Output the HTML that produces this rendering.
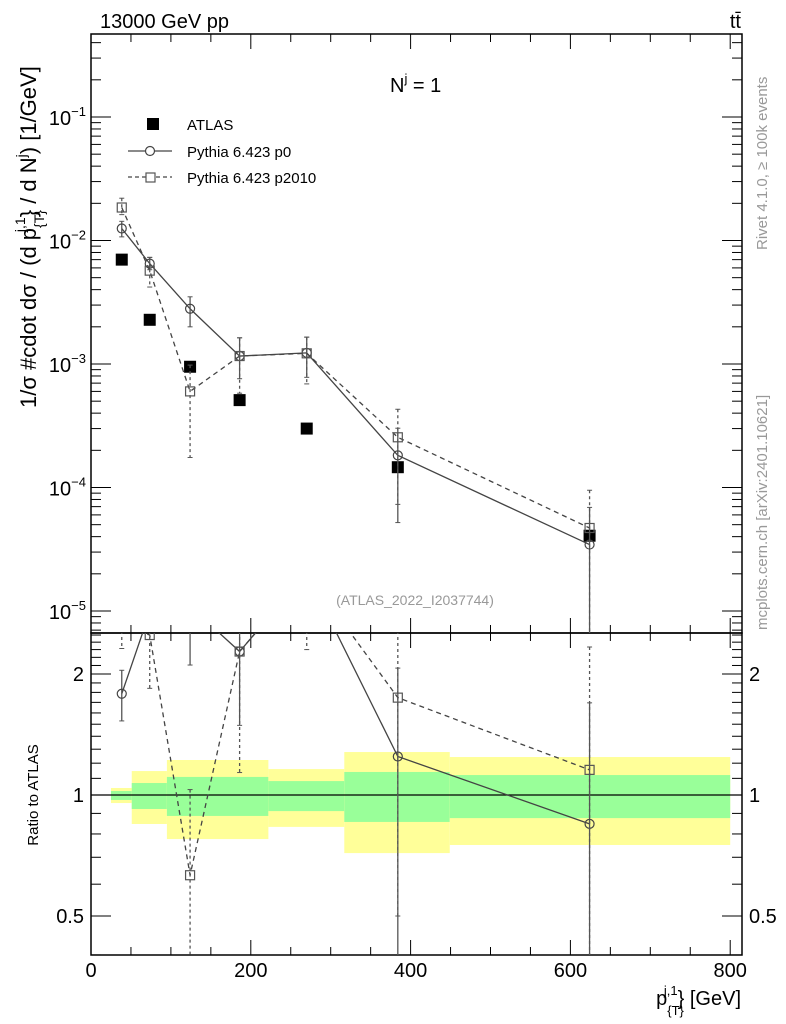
<!DOCTYPE html>
<html><head><meta charset="utf-8"><style>
html,body{margin:0;padding:0;background:#fff;overflow:hidden;width:786px;height:1024px;}
svg{display:block;font-family:"Liberation Sans",sans-serif;}
</style></head><body>
<svg id="chart" width="786" height="1024" xmlns="http://www.w3.org/2000/svg">
<g id="bands"></g>
<g id="axes"></g>
<g id="series"></g>
<text x="100" y="28" font-size="20">13000 GeV pp</text>
<text x="741" y="28" font-size="20" text-anchor="end">tt̄</text>
<text x="390" y="92" font-size="20">N<tspan dy="-9" font-size="13">j</tspan><tspan dy="9"> = 1</tspan></text>
<text x="415" y="605" font-size="14" fill="#999" text-anchor="middle">(ATLAS_2022_I2037744)</text>
<text transform="translate(767,250) rotate(-90)" font-size="15" fill="#999">Rivet 4.1.0, ≥ 100k events</text>
<text transform="translate(767,630) rotate(-90)" font-size="15" fill="#999">mcplots.cern.ch [arXiv:2401.10621]</text>
<text transform="translate(36,408) rotate(-90)" font-size="22">1/σ #cdot dσ / (d p<tspan dy="8" font-size="14">{T}</tspan><tspan dy="-19" dx="-22" font-size="14">j,1</tspan><tspan dy="11">} / d N</tspan><tspan dy="-10" font-size="14">j</tspan><tspan dy="10">) [1/GeV]</tspan></text>
<text transform="translate(38,795) rotate(-90)" font-size="15" text-anchor="middle">Ratio to ATLAS</text>
<text x="741" y="1005" font-size="20" text-anchor="end">p<tspan dy="10" font-size="13">{T}</tspan><tspan dy="-20" dx="-20" font-size="13">j,1</tspan><tspan dy="10">} [GeV]</tspan></text>
<g>
<rect x="147" y="118" width="12" height="12" fill="#000"/>
<text x="187" y="130" font-size="15">ATLAS</text>
<line x1="128" y1="151" x2="172" y2="151" stroke="#444" stroke-width="1.3"/>
<circle cx="150" cy="151" r="4.5" fill="#fff" stroke="#444" stroke-width="1.2"/>
<text x="187" y="157" font-size="15">Pythia 6.423 p0</text>
<line x1="128" y1="177" x2="172" y2="177" stroke="#444" stroke-width="1.3" stroke-dasharray="4,3"/>
<rect x="146" y="173" width="9" height="9" fill="#fff" stroke="#555" stroke-width="1.2"/>
<text x="187" y="183" font-size="15">Pythia 6.423 p2010</text>
</g>
</svg>
<script>
const binEdges=[25,51,95,222,317,449,800];
const xCenters=[38.5,73.5,124,186,270,384,624];
const atlas=[0.0070,0.00228,0.00095,0.00051,0.00030,0.000146,0.0000407];
const p0=[0.0125,0.0065,0.0028,0.00116,0.00123,0.000182,0.0000345];
const p0Hi=[0.0143,0.0073,0.0035,0.00163,0.00165,0.000302,0.000069];
const p0Lo=[0.0107,0.0058,0.0020,0.00076,0.00078,0.000052,0.0];
const p2010=[0.0185,0.0057,0.0006,0.00116,0.00122,0.000255,0.000047];
const p2010Hi=[0.0220,0.0073,0.00098,0.00163,0.00165,0.00043,0.000095];
const p2010Lo=[0.0162,0.0042,0.000175,0.00058,0.00069,0.000073,0.0];
const yellowHi=[1.041,1.147,1.222,1.160,1.279,1.243];
const yellowLo=[0.955,0.847,0.777,0.833,0.717,0.751];
const greenHi=[1.023,1.071,1.109,1.083,1.141,1.121];
const greenLo=[0.972,0.923,0.887,0.912,0.857,0.876];
const xTicks=[0,200,400,600,800];
const yTickExp=[-1,-2,-3,-4,-5];
const rTicks=[0.5,1,2];

const NS="http://www.w3.org/2000/svg";
const L=91,R=742,T=34,MB=633,RB=955;
const X=v=>91+v*0.799;
const Y=v=>117-(Math.log10(v)+1)*123.5;
const RY=v=>795-Math.log10(v)*402;
function mk(tag,attrs,parent){const e=document.createElementNS(NS,tag);for(const k in attrs)e.setAttribute(k,attrs[k]);parent.appendChild(e);return e;}
const bands=document.getElementById('bands'),axes=document.getElementById('axes'),ser=document.getElementById('series');

for(let i=0;i<yellowHi.length;i++){
 const x1=X(binEdges[i]),x2=X(binEdges[i+1]);
 const y=mk('rect',{x:x1,y:RY(yellowHi[i]),width:x2-x1,height:RY(yellowLo[i])-RY(yellowHi[i]),fill:'#ffff99'},bands);
 
 
 const g=mk('rect',{x:x1,y:RY(greenHi[i]),width:x2-x1,height:RY(greenLo[i])-RY(greenHi[i]),fill:'#99ff99'},bands);
 
 
}
mk('line',{x1:L,y1:RY(1),x2:R,y2:RY(1),stroke:'#000','stroke-width':1.3},bands);

mk('rect',{x:L,y:T,width:R-L,height:MB-T,fill:'none',stroke:'#000','stroke-width':1.5},axes);
mk('rect',{x:L,y:MB,width:R-L,height:RB-MB,fill:'none',stroke:'#000','stroke-width':1.5},axes);

for(let v=0;v<=800;v+=50){
 const major=v%200===0,len=major?15:8,x=X(v);
 [[MB,-1],[RB,-1],[T,1],[MB,1]].forEach(([y0,d])=>mk('line',{x1:x,y1:y0,x2:x,y2:y0+d*len,stroke:'#000'},axes));
}
xTicks.forEach(v=>{const t=mk('text',{x:X(v),y:977,'font-size':20,'text-anchor':'middle'},axes);t.textContent=v;
 
 });

for(let e=-6;e<=0;e++){for(let m=1;m<10;m++){const v=m*Math.pow(10,e),y=Y(v);if(y<T||y>MB)continue;
 const len=m===1?20:10;
 mk('line',{x1:L,y1:y,x2:L+len,y2:y,stroke:'#000'},axes);
 mk('line',{x1:R,y1:y,x2:R-len,y2:y,stroke:'#000'},axes);}}
yTickExp.forEach(e=>{const t=mk('text',{x:86,y:Y(Math.pow(10,e))+8,'font-size':20,'text-anchor':'end'},axes);
 t.innerHTML='10<tspan dy="-9" font-size="13">−'+(-e)+'</tspan>';
 
 });

for(let k=4;k<=25;k++){const v=k/10,y=RY(v);if(y<MB||y>RB)continue;const major=(v===0.5||v===1||v===2);const len=major?20:10;
 mk('line',{x1:L,y1:y,x2:L+len,y2:y,stroke:'#000'},axes);mk('line',{x1:R,y1:y,x2:R-len,y2:y,stroke:'#000'},axes);}
rTicks.forEach(v=>{[[84,'end'],[749,'start']].forEach(([x,a])=>{const t=mk('text',{x:x,y:RY(v)+7,'font-size':20,'text-anchor':a},axes);t.textContent=v;
 
 });});

const defs=mk('defs',{},ser);
const c1=mk('clipPath',{id:'cm'},defs);mk('rect',{x:L,y:T,width:R-L,height:MB-T},c1);
const c2=mk('clipPath',{id:'cr'},defs);mk('rect',{x:L,y:MB,width:R-L,height:RB-MB},c2);
const gm=mk('g',{'clip-path':'url(#cm)'},ser),gr=mk('g',{'clip-path':'url(#cr)'},ser);

function clampY(f,v,top,bottom){const y=v>0?f(v):bottom+20;return Math.max(top-20,Math.min(bottom+20,y));}
function drawMC(g,vals,his,los,fy,top,bottom,dashed,marker,name){
 const pts=vals.map((v,i)=>X(xCenters[i])+','+clampY(fy,v,top-40,bottom+40)).join(' ');
 const pl=mk('polyline',{points:pts,fill:'none',stroke:'#444','stroke-width':1.3},g);
 if(dashed)pl.setAttribute('stroke-dasharray','5,4');
 
 
 vals.forEach((v,i)=>{const x=X(xCenters[i]),yh=clampY(fy,his[i],top,bottom),yl=clampY(fy,los[i],top,bottom),y=clampY(fy,v,top,bottom);
  const e=mk('line',{x1:x,y1:yh,x2:x,y2:yl,stroke:'#555','stroke-width':1.3},g);if(dashed)e.setAttribute('stroke-dasharray','3,3');
  mk('line',{x1:x-2.5,y1:yh,x2:x+2.5,y2:yh,stroke:'#555'},g);mk('line',{x1:x-2.5,y1:yl,x2:x+2.5,y2:yl,stroke:'#555'},g);
  let m;
  if(marker==='c')m=mk('circle',{cx:x,cy:y,r:4.5,fill:'none',stroke:'#444','stroke-width':1.2},g);
  else m=mk('rect',{x:x-4.5,y:y-4.5,width:9,height:9,fill:'none',stroke:'#555','stroke-width':1.2},g);
  
  
 });
}
atlas.forEach((v,i)=>{const r=mk('rect',{x:X(xCenters[i])-6,y:Y(v)-6,width:12,height:12,fill:'#000'},gm);
 
 });
drawMC(gm,p0,p0Hi,p0Lo,Y,T,MB,false,'c','p0');
drawMC(gm,p2010,p2010Hi,p2010Lo,Y,T,MB,true,'s','p2010');
const rat=(a)=>a.map((v,i)=>v/atlas[i]);
drawMC(gr,rat(p0),rat(p0Hi),rat(p0Lo),RY,MB,RB,false,'c','p0-ratio');
drawMC(gr,rat(p2010),rat(p2010Hi),rat(p2010Lo),RY,MB,RB,true,'s','p2010-ratio');
</script>
</body></html>
